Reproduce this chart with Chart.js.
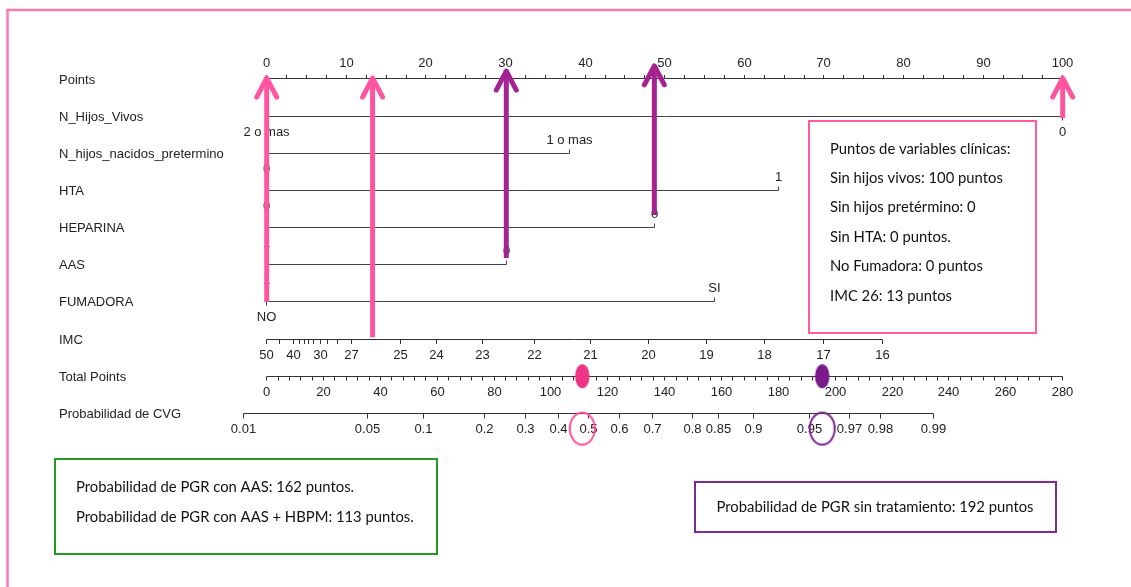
<!DOCTYPE html>
<html>
<head>
<meta charset="utf-8">
<title>Nomograma CVG</title>
<script src="https://cdn.jsdelivr.net/npm/chart.js@4.4.1/dist/chart.umd.min.js"></script>
<style>
  html, body { margin: 0; padding: 0; background: #fff; }
  #wrap { width: 1131px; height: 587px; }
</style>
</head>
<body>
<div id="wrap"><canvas id="nomogram" width="1131" height="587"></canvas></div>
<script>
// Row names of the nomogram, top to bottom
const rowNames = ['Points', 'N_Hijos_Vivos', 'N_hijos_nacidos_pretermino', 'HTA', 'HEPARINA',
    'AAS', 'FUMADORA', 'IMC', 'Total Points', 'Probabilidad de CVG'];

// Points scale (0-100), labelled every 10, minor ticks every 2.5
const pointsLabels = [0, 10, 20, 30, 40, 50, 60, 70, 80, 90, 100];
const pointsMinorStep = 2.5;

// Categorical predictors: level labels and the points of each level
const hijosVivosLevels = ['2 o mas', '0'];
const hijosVivosPts = [0, 100];
const pretermLevels = ['0', '1 o mas'];
const pretermPts = [0, 38.1];
const htaLevels = ['0', '1'];
const htaPts = [0, 64.3];
const heparinaLevels = ['1', '0'];
const heparinaPts = [0, 48.7];
const aasLevels = ['1', '0'];
const aasPts = [0, 30.1];
const fumadoraLevels = ['NO', 'SI'];
const fumadoraPts = [0, 56.3];

// IMC scale (non linear): tick label ('' = unlabelled tick) and its points
const imcLabels = ['50', '', '40', '', '', '', '', '30', '', '', '27', '25', '24', '23', '22', '21', '20', '19', '18', '17', '16'];
const imcPts = [0, 1.67, 3.34, 4.06, 4.69, 5.31, 5.94, 6.70, 7.66, 8.92, 10.68, 16.75, 21.36, 27.14, 33.62, 40.68, 47.96, 55.31, 62.60, 69.92, 77.34];

// Total points scale
const totalMax = 280;
const totalLabels = [0, 20, 40, 60, 80, 100, 120, 140, 160, 180, 200, 220, 240, 260, 280];
const totalMinorStep = 4;

// Probability scale (logit of total points)
const probTicks = [0.01, 0.05, 0.1, 0.2, 0.3, 0.4, 0.5, 0.6, 0.7, 0.8, 0.85, 0.9, 0.95, 0.97, 0.98, 0.99];
const probLabels = ['0.01', '0.05', '0.1', '0.2', '0.3', '0.4', '0.5', '0.6', '0.7', '0.8', '0.85', '0.9', '0.95', '0.97', '0.98', '0.99'];
const probCenter = 113.3;   // total points where p = 0.5
const probSlope = 26.4;     // total points per logit unit

// Highlighted arrows (points value, from row, to row)
const arrowPts = [0, 13.3, 100, 30.1, 48.7];
const arrowFrom = [6, 6.95, 1.05, 4.82, 3.66];
const arrowTo = [-0.05, -0.05, -0.05, -0.24, -0.38];
const arrowColors = ['#ff55a0', '#ff55a0', '#ff55a0', '#a52391', '#a52391'];

// Highlighted total points: with AAS + HBPM (pink) and without treatment (purple)
const markTotals = [111, 195.4];
const markColors = ['#ee3585', '#7a1a8c'];

// Annotation texts
const clinicalLines = ['Puntos de variables clínicas:', 'Sin hijos vivos: 100 puntos', 'Sin hijos pretérmino: 0',
    'Sin HTA: 0 puntos.', 'No Fumadora: 0 puntos', 'IMC 26: 13 puntos'];
const treatmentLines = ['Probabilidad de PGR con AAS: 162 puntos.', 'Probabilidad de PGR con AAS + HBPM: 113 puntos.'];
const untreatedLine = 'Probabilidad de PGR sin tratamiento: 192 puntos';

const NOMO_FONT = '13px "Liberation Sans", Arial, sans-serif';
const BOX_FONT = '14.5px Lato, "Open Sans", sans-serif';
const AXIS_COLOR = '#333';
const TEXT_COLOR = '#222';

function logit(p) { return Math.log(p / (1 - p)); }
function totalToPts(t) { return t * 100 / totalMax; }
function probToPts(p) { return totalToPts(probCenter + probSlope * logit(p)); }
function snap(v) { return Math.round(v - 0.5) + 0.5; }

// Continuous axes: row, ticks {v, label}, tick direction (-1 up / 1 down), label side
function stepTicks(max, step, labels) {
    const out = [];
    for (let v = 0; v <= max + 1e-9; v += step) {
        out.push({ v: v, label: labels.includes(v) ? String(v) : '' });
    }
    return out;
}
const scaleRows = [
    { row: 0, ticks: stepTicks(100, pointsMinorStep, pointsLabels), dir: -1, side: -1, len: 3.5 },
    { row: 7, ticks: imcPts.map((v, i) => ({ v: v, label: imcLabels[i] })), dir: 1, side: 1, len: 4.5 },
    { row: 8, ticks: stepTicks(totalMax, totalMinorStep, totalLabels).map(t => ({ v: totalToPts(t.v), label: t.label })), dir: 1, side: 1, len: 4 },
    { row: 9, ticks: probTicks.map((p, i) => ({ v: probToPts(p), label: probLabels[i] })), dir: 1, side: 1, len: 5 }
];
// Categorical rows: side of each level label (-1 above, 1 below)
const levelRows = [
    { row: 1, levels: hijosVivosLevels, pts: hijosVivosPts, sides: [1, 1] },
    { row: 2, levels: pretermLevels, pts: pretermPts, sides: [1, -1] },
    { row: 3, levels: htaLevels, pts: htaPts, sides: [1, -1] },
    { row: 4, levels: heparinaLevels, pts: heparinaPts, sides: [1, -1] },
    { row: 5, levels: aasLevels, pts: aasPts, sides: [1, -1] },
    { row: 6, levels: fumadoraLevels, pts: fumadoraPts, sides: [1, -1] }
];

// Draws the nomogram axes through the chart scales
const nomogramAxes = {
    id: 'nomogramAxes',
    beforeDatasetsDraw(chart) {
        const ctx = chart.ctx;
        const xs = chart.scales.x;
        const ys = chart.scales.y;
        ctx.save();
        ctx.font = NOMO_FONT;
        ctx.fillStyle = TEXT_COLOR;
        ctx.strokeStyle = AXIS_COLOR;
        ctx.lineWidth = 1;

        // row names
        ctx.textAlign = 'left';
        ctx.textBaseline = 'middle';
        rowNames.forEach((name, r) => ctx.fillText(name, 59, ys.getPixelForValue(r) + 1));

        ctx.textAlign = 'center';
        scaleRows.forEach(ax => {
            const y = snap(ys.getPixelForValue(ax.row));
            const vals = ax.ticks.map(t => t.v);
            ctx.beginPath();
            ctx.moveTo(snap(xs.getPixelForValue(Math.min(...vals))), y);
            ctx.lineTo(snap(xs.getPixelForValue(Math.max(...vals))), y);
            ctx.stroke();
            ax.ticks.forEach(t => {
                const x = snap(xs.getPixelForValue(t.v));
                ctx.beginPath();
                ctx.moveTo(x, y);
                ctx.lineTo(x, y + ax.dir * ax.len);
                ctx.stroke();
                if (t.label) ctx.fillText(t.label, x, y + ax.side * 15.5);
            });
        });

        levelRows.forEach(lr => {
            const y = snap(ys.getPixelForValue(lr.row));
            ctx.strokeStyle = '#444';
            ctx.beginPath();
            ctx.moveTo(snap(xs.getPixelForValue(lr.pts[0])), y);
            ctx.lineTo(snap(xs.getPixelForValue(lr.pts[lr.pts.length - 1])), y);
            ctx.stroke();
            lr.pts.forEach((p, i) => {
                const x = snap(xs.getPixelForValue(p));
                const s = lr.sides[i];
                ctx.beginPath();
                ctx.moveTo(x, y);
                ctx.lineTo(x, y + s * 4);
                ctx.stroke();
                ctx.fillText(lr.levels[i], x, y + (s > 0 ? 16 : -13));
            });
        });
        ctx.restore();
    }
};

// Open chevron heads on arrow datasets
const arrowHeads = {
    id: 'arrowHeads',
    afterDatasetsDraw(chart) {
        const ctx = chart.ctx;
        chart.data.datasets.forEach((ds, i) => {
            if (!ds.arrowHead) return;
            const tip = chart.getDatasetMeta(i).data[1];
            ctx.save();
            ctx.strokeStyle = ds.borderColor;
            ctx.lineWidth = 5;
            ctx.lineCap = 'round';
            ctx.lineJoin = 'round';
            ctx.beginPath();
            ctx.moveTo(tip.x - 10, tip.y + 20);
            ctx.lineTo(tip.x, tip.y + 1);
            ctx.lineTo(tip.x + 10, tip.y + 20);
            ctx.stroke();
            ctx.restore();
        });
    }
};

function drawBox(ctx, x, y, w, h, color) {
    ctx.save();
    ctx.strokeStyle = color;
    ctx.lineWidth = 2;
    ctx.strokeRect(x, y, w, h);
    ctx.restore();
}
function boxText(ctx, text, x, y, sx, align) {
    ctx.save();
    ctx.translate(x, y);
    ctx.scale(sx, 1);
    ctx.textAlign = align || 'left';
    ctx.fillText(text, 0, 0);
    ctx.restore();
}

// Frame, background and text boxes
const annotations = {
    id: 'annotations',
    beforeDraw(chart) {
        const ctx = chart.ctx;
        ctx.save();
        ctx.fillStyle = '#fff';
        ctx.fillRect(0, 0, chart.width, chart.height);
        ctx.strokeStyle = '#ff78ab';
        ctx.lineWidth = 2.5;
        ctx.strokeRect(7.5, 10, 1300, 800);
        ctx.restore();
    },
    afterDraw(chart) {
        const ctx = chart.ctx;
        ctx.save();
        ctx.font = BOX_FONT;
        ctx.fillStyle = '#111';
        ctx.textBaseline = 'middle';
        const sx = 317 / ctx.measureText(untreatedLine).width;

        drawBox(ctx, 809, 121, 227, 212, '#ff5c9f');
        clinicalLines.forEach((t, i) => boxText(ctx, t, 830, 149 + i * 29.4, sx));

        drawBox(ctx, 55, 459, 382, 95, '#239a23');
        treatmentLines.forEach((t, i) => boxText(ctx, t, 76, 487 + i * 30.5, sx));

        drawBox(ctx, 695, 482, 361, 50, '#7f2a96');
        boxText(ctx, untreatedLine, 875, 507, sx, 'center');
        ctx.restore();
    }
};

function ellipseSprite(w, h, fill, stroke, lw) {
    const c = document.createElement('canvas');
    c.width = Math.ceil(w + lw * 2 + 2);
    c.height = Math.ceil(h + lw * 2 + 2);
    const g = c.getContext('2d');
    g.beginPath();
    g.ellipse(c.width / 2, c.height / 2, w / 2, h / 2, 0, 0, Math.PI * 2);
    if (fill) { g.fillStyle = fill; g.fill(); }
    if (stroke) { g.lineWidth = lw; g.strokeStyle = stroke; g.stroke(); }
    return c;
}

const datasets = [];
// total points markers (filled) and probability circles (hollow)
markTotals.forEach((t, i) => {
    datasets.push({
        data: [{ x: totalToPts(t), y: 8 }],
        pointStyle: ellipseSprite(14.5, 24, markColors[i], null, 0),
        pointRadius: 10
    });
    datasets.push({
        data: [{ x: totalToPts(t), y: 9.41 }],
        pointStyle: ellipseSprite(25, 32, null, i === 0 ? '#ff4f9a' : '#7d2192', 2),
        pointRadius: 10
    });
});
arrowPts.forEach((p, i) => {
    datasets.push({
        data: [{ x: p, y: arrowFrom[i] }, { x: p, y: arrowTo[i] }],
        showLine: true,
        borderColor: arrowColors[i],
        borderWidth: 5,
        borderCapStyle: 'butt',
        pointRadius: 0,
        arrowHead: true,
        clip: false
    });
});

const rowPx = 37.15;
const rowMin = -2, rowMax = 13.5;
const ctx = document.getElementById('nomogram').getContext('2d');
const nomogram = new Chart(ctx, {
    type: 'scatter',
    data: { datasets: datasets },
    options: {
        responsive: false,
        animation: false,
        events: [],
        layout: {
            autoPadding: false,
            padding: {
                left: 266.7,
                right: 1131 - 1062.7,
                top: 79 + rowMin * rowPx,
                bottom: 587 - (79 + rowMax * rowPx)
            }
        },
        plugins: { legend: { display: false }, tooltip: { enabled: false } },
        scales: {
            x: { type: 'linear', min: 0, max: 100, display: false },
            y: { type: 'linear', min: rowMin, max: rowMax, reverse: true, display: false }
        }
    },
    plugins: [annotations, nomogramAxes, arrowHeads]
});
</script>
</body>
</html>
